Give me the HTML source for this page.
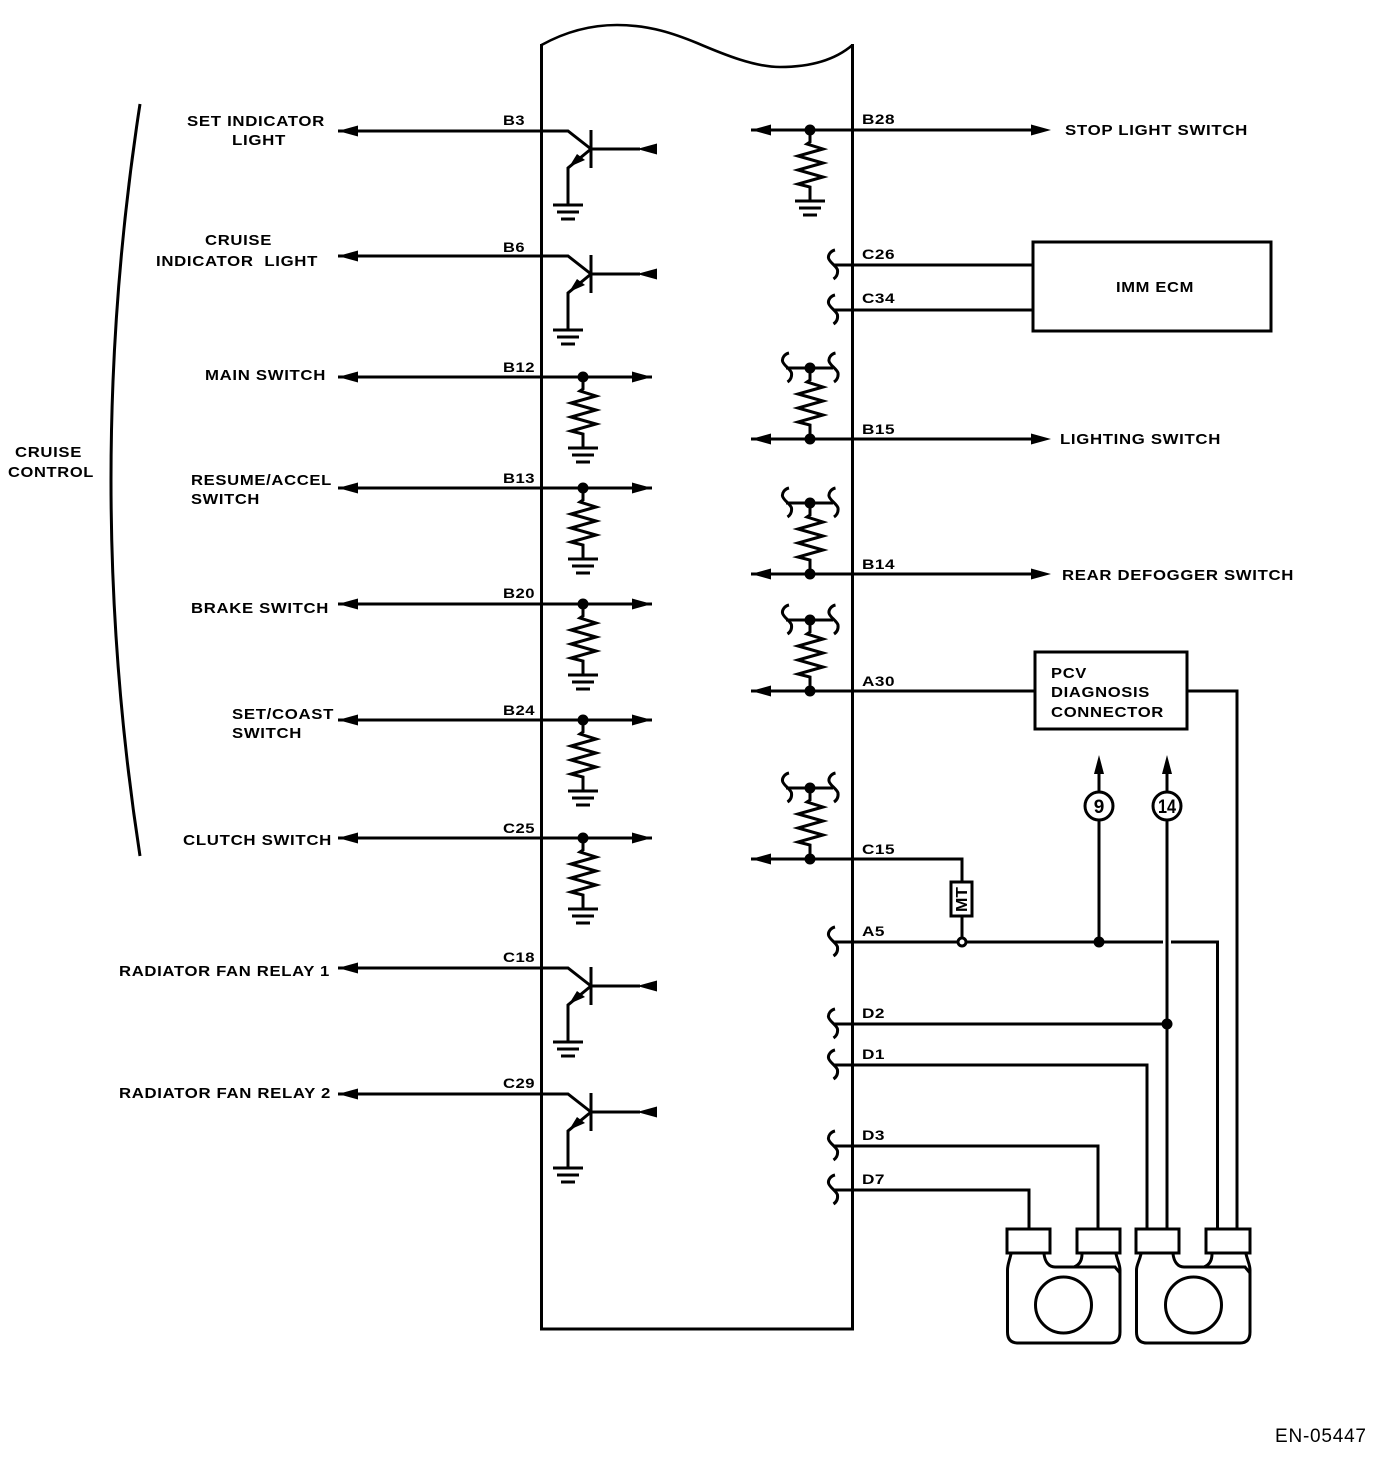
<!DOCTYPE html>
<html><head><meta charset="utf-8"><style>
html,body{margin:0;padding:0;background:#fff}
svg{display:block}
text{font-family:"Liberation Sans",sans-serif;font-weight:bold;font-size:15px;fill:#000;letter-spacing:.6px}
.p{font-size:14px;letter-spacing:.4px}
</style></head><body>
<svg width="1392" height="1460" viewBox="0 0 1392 1460" xmlns="http://www.w3.org/2000/svg">
<defs>
<g id="gnd" fill="none" stroke="#000" stroke-width="3"><path d="M-15 0H15M-11 7H11M-7 14H7"/></g>
<g id="res" fill="none" stroke="#000" stroke-width="3"><path d="M0 0V12L-3 14L13 19L-12 26L13 33L-12 40L13 47L-12 54L0 57V71"/></g>
<path id="sq" fill="none" stroke="#000" stroke-width="3" d="M6.500 -15C2 -14 -0.500 -10 0 -7C0.500 -3 8 1 9 5C9.500 9 8 12 5 14"/>
<polygon id="al" points="0,0 20,-5.500 20,5.500" fill="#000"/>
<polygon id="ar" points="0,0 -20,-5.500 -20,5.500" fill="#000"/>
<g id="tr">
<path fill="none" stroke="#000" stroke-width="3" d="M-30 0H0L23 18M23 -1V37M23 18H72M23 18L0 37V74"/>
<polygon points="69,18 89,12.500 89,23.500" fill="#000"/>
<polygon points="1,36 9,23 17,29" fill="#000"/>
<use href="#gnd" x="0" y="74"/>
</g>
<g id="pd">
<use href="#res"/><circle r="5.5" fill="#000"/><use href="#gnd" y="71"/>
<path d="M-245 0H69" stroke="#000" stroke-width="3" fill="none"/>
<use href="#al" x="-245"/><use href="#ar" x="69"/>
</g>
<g id="pu">
<use href="#res"/>
<path d="M-59 71H0M-24 0H23" stroke="#000" stroke-width="3" fill="none"/>
<circle r="5.5" fill="#000"/><circle cy="71" r="5.5" fill="#000"/>
<use href="#al" x="-59" y="71"/>
<use href="#sq" x="-27.500"/><use href="#sq" x="19"/>
</g>
</defs>

<g fill="none" stroke="#000" stroke-width="3">
<path stroke-width="2.6" d="M541.500 45C565 32 590 25 617 25C650 25 675 34 697 43C725 55 755 67 780 67C810 67 835 60 852.500 45"/>
<path d="M541.500 44V1329H852.500V44"/>
<path d="M140 104Q82 480 140 856"/>
<path d="M338 131H538M338 256H538M338 968H538M338 1094H538"/>
<rect x="1033" y="242" width="238" height="89"/>
<rect x="1035" y="652" width="152" height="77"/>
<path d="M833 265H1033M833 310H1033"/>
<path d="M810 130H1035M810 439H1035M810 574H1045"/>
<path d="M810 691H1035M1187 691H1237V1229"/>
<path d="M810 859H962V882M962 916V938"/>
<path d="M833 942H958M966 942H1163M1171 942H1217.500V1229"/>
<path d="M1099 942V820M1099 792V772M1167 1229V820M1167 792V772"/>
<path d="M833 1024H1167M833 1065H1147V1229M833 1146H1098V1229M833 1190H1029V1229"/>
<rect x="951" y="882" width="21" height="34"/>
<circle cx="1099" cy="806" r="14"/>
<circle cx="1167" cy="806" r="14"/>
<circle cx="962" cy="942" r="4"/>
<rect x="1007" y="1229" width="43" height="24"/><rect x="1077" y="1229" width="43" height="24"/>
<rect x="1136" y="1229" width="43" height="24"/><rect x="1206" y="1229" width="44" height="24"/>
<path d="M1011 1254C1009 1262 1007.500 1265 1007.500 1270V1332Q1007.500 1343 1018 1343H1110Q1120 1343 1120 1332V1270C1120 1265 1118 1262 1116 1254M1044 1254C1045 1262 1049 1267 1055 1267H1115L1120 1273M1082 1254C1082 1261 1079 1265 1074 1267"/>
<path d="M1141 1254C1139 1262 1136.500 1265 1136.500 1270V1332Q1136.500 1343 1147 1343H1240Q1250 1343 1250 1332V1270C1250 1265 1248 1262 1246 1254M1173 1254C1174 1262 1178 1267 1184 1267H1245L1250 1273M1212 1254C1212 1261 1209 1265 1204 1267"/>
<circle cx="1063.500" cy="1305" r="28"/><circle cx="1193.500" cy="1305" r="28"/>
</g>

<use href="#tr" x="568" y="131"/><use href="#tr" x="568" y="256"/>
<use href="#tr" x="568" y="968"/><use href="#tr" x="568" y="1094"/>
<use href="#al" x="338" y="131"/><use href="#al" x="338" y="256"/>
<use href="#al" x="338" y="968"/><use href="#al" x="338" y="1094"/>

<use href="#pd" x="583" y="377"/><use href="#pd" x="583" y="488"/>
<use href="#pd" x="583" y="604"/><use href="#pd" x="583" y="720"/>
<use href="#pd" x="583" y="838"/>

<use href="#res" x="810" y="130"/><circle cx="810" cy="130" r="5.5" fill="#000"/>
<use href="#gnd" x="810" y="201"/>
<path d="M751 130H810" stroke="#000" stroke-width="3"/>
<use href="#al" x="751" y="130"/><use href="#ar" x="1051" y="130"/>

<use href="#pu" x="810" y="368"/><use href="#pu" x="810" y="503"/>
<use href="#pu" x="810" y="620"/><use href="#pu" x="810" y="788"/>
<use href="#ar" x="1051" y="439"/><use href="#ar" x="1051" y="574"/>

<use href="#sq" x="828.500" y="265"/><use href="#sq" x="828.500" y="310"/>
<use href="#sq" x="828.500" y="942"/><use href="#sq" x="828.500" y="1024"/>
<use href="#sq" x="828.500" y="1065"/><use href="#sq" x="828.500" y="1146"/>
<use href="#sq" x="828.500" y="1190"/>

<circle cx="1099" cy="942" r="5.5" fill="#000"/><circle cx="1167" cy="1024" r="5.5" fill="#000"/>
<polygon points="1099,755 1094,774 1104,774" fill="#000"/><polygon points="1167,755 1162,774 1172,774" fill="#000"/>

<text x="1099" y="813" text-anchor="middle" style="font-size:19px;letter-spacing:0">9</text>
<text x="1158" y="813" style="font-size:19px;letter-spacing:0" textLength="18" lengthAdjust="spacingAndGlyphs">14</text>
<text transform="translate(967 912) rotate(-90)" style="font-size:16px;letter-spacing:0" textLength="25" lengthAdjust="spacingAndGlyphs">MT</text>

<text lengthAdjust="spacingAndGlyphs" x="187" y="126" textLength="138">SET INDICATOR</text>
<text lengthAdjust="spacingAndGlyphs" x="232" y="145" textLength="54">LIGHT</text>
<text lengthAdjust="spacingAndGlyphs" x="205" y="245" textLength="67">CRUISE</text>
<text lengthAdjust="spacingAndGlyphs" x="156" y="266" textLength="162" xml:space="preserve">INDICATOR  LIGHT</text>
<text lengthAdjust="spacingAndGlyphs" x="205" y="380" textLength="121">MAIN SWITCH</text>
<text lengthAdjust="spacingAndGlyphs" x="191" y="485" textLength="141">RESUME/ACCEL</text>
<text lengthAdjust="spacingAndGlyphs" x="191" y="504" textLength="69">SWITCH</text>
<text lengthAdjust="spacingAndGlyphs" x="191" y="613" textLength="138">BRAKE SWITCH</text>
<text lengthAdjust="spacingAndGlyphs" x="232" y="719" textLength="102">SET/COAST</text>
<text lengthAdjust="spacingAndGlyphs" x="232" y="738" textLength="70">SWITCH</text>
<text lengthAdjust="spacingAndGlyphs" x="183" y="845" textLength="149">CLUTCH SWITCH</text>
<text lengthAdjust="spacingAndGlyphs" x="119" y="976" textLength="211">RADIATOR FAN RELAY 1</text>
<text lengthAdjust="spacingAndGlyphs" x="119" y="1098" textLength="212">RADIATOR FAN RELAY 2</text>
<text lengthAdjust="spacingAndGlyphs" x="15" y="457" textLength="67">CRUISE</text>
<text lengthAdjust="spacingAndGlyphs" x="8" y="477" textLength="86">CONTROL</text>
<text lengthAdjust="spacingAndGlyphs" x="1065" y="135" textLength="183">STOP LIGHT SWITCH</text>
<text lengthAdjust="spacingAndGlyphs" x="1116" y="292" textLength="78">IMM ECM</text>
<text lengthAdjust="spacingAndGlyphs" x="1060" y="444" textLength="161">LIGHTING SWITCH</text>
<text lengthAdjust="spacingAndGlyphs" x="1062" y="580" textLength="232">REAR DEFOGGER SWITCH</text>
<text lengthAdjust="spacingAndGlyphs" x="1051" y="678" textLength="36">PCV</text>
<text lengthAdjust="spacingAndGlyphs" x="1051" y="697" textLength="99">DIAGNOSIS</text>
<text lengthAdjust="spacingAndGlyphs" x="1051" y="717" textLength="113">CONNECTOR</text>
<text x="1275" y="1442" textLength="91" style="font-weight:normal;font-size:19px;letter-spacing:0">EN-05447</text>

<text lengthAdjust="spacingAndGlyphs" class="p" x="503" y="125" textLength="22">B3</text>
<text lengthAdjust="spacingAndGlyphs" class="p" x="503" y="252" textLength="22">B6</text>
<text lengthAdjust="spacingAndGlyphs" class="p" x="503" y="372" textLength="32">B12</text>
<text lengthAdjust="spacingAndGlyphs" class="p" x="503" y="483" textLength="32">B13</text>
<text lengthAdjust="spacingAndGlyphs" class="p" x="503" y="598" textLength="32">B20</text>
<text lengthAdjust="spacingAndGlyphs" class="p" x="503" y="715" textLength="32">B24</text>
<text lengthAdjust="spacingAndGlyphs" class="p" x="503" y="833" textLength="32">C25</text>
<text lengthAdjust="spacingAndGlyphs" class="p" x="503" y="962" textLength="32">C18</text>
<text lengthAdjust="spacingAndGlyphs" class="p" x="503" y="1088" textLength="32">C29</text>
<text lengthAdjust="spacingAndGlyphs" class="p" x="862" y="124" textLength="33">B28</text>
<text lengthAdjust="spacingAndGlyphs" class="p" x="862" y="259" textLength="33">C26</text>
<text lengthAdjust="spacingAndGlyphs" class="p" x="862" y="303" textLength="33">C34</text>
<text lengthAdjust="spacingAndGlyphs" class="p" x="862" y="434" textLength="33">B15</text>
<text lengthAdjust="spacingAndGlyphs" class="p" x="862" y="569" textLength="33">B14</text>
<text lengthAdjust="spacingAndGlyphs" class="p" x="862" y="686" textLength="33">A30</text>
<text lengthAdjust="spacingAndGlyphs" class="p" x="862" y="854" textLength="33">C15</text>
<text lengthAdjust="spacingAndGlyphs" class="p" x="862" y="936" textLength="23">A5</text>
<text lengthAdjust="spacingAndGlyphs" class="p" x="862" y="1018" textLength="23">D2</text>
<text lengthAdjust="spacingAndGlyphs" class="p" x="862" y="1059" textLength="23">D1</text>
<text lengthAdjust="spacingAndGlyphs" class="p" x="862" y="1140" textLength="23">D3</text>
<text lengthAdjust="spacingAndGlyphs" class="p" x="862" y="1184" textLength="23">D7</text>
</svg>
</body></html>
